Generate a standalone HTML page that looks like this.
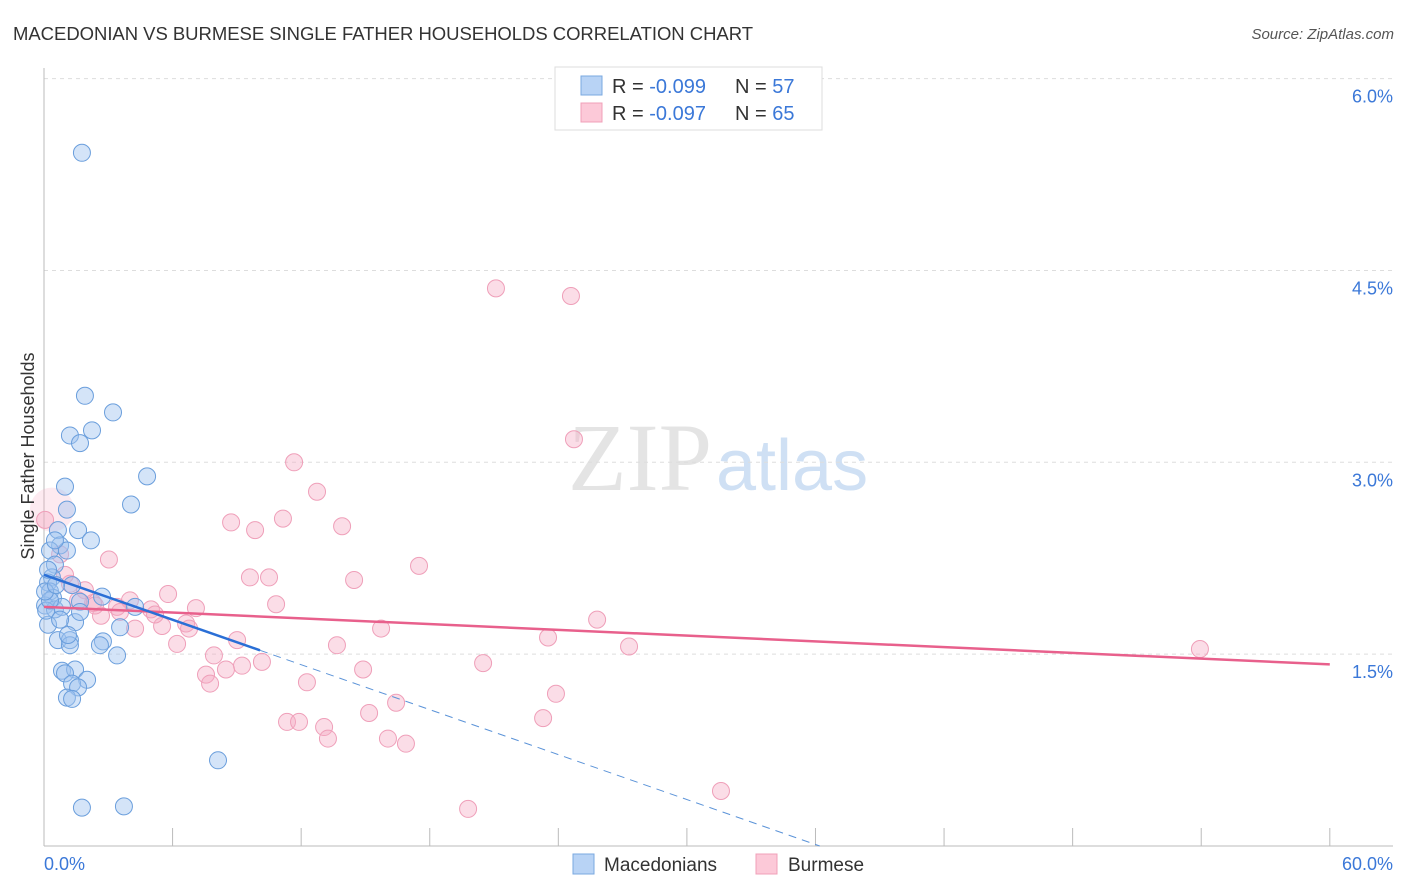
<!DOCTYPE html>
<html><head><meta charset="utf-8"><style>
body{margin:0;background:#fff;font-family:"Liberation Sans",sans-serif;}
</style></head><body>
<svg id="chart" width="1406" height="892" xmlns="http://www.w3.org/2000/svg" style="display:block">
<text x="13" y="40" font-size="18.5" fill="#333" textLength="740">MACEDONIAN VS BURMESE SINGLE FATHER HOUSEHOLDS CORRELATION CHART</text>
<text x="1394" y="39" font-size="15" fill="#555" font-style="italic" text-anchor="end">Source: ZipAtlas.com</text>
<text x="712" y="490" font-size="96" fill="#e4e4e4" text-anchor="end" font-family="Liberation Serif, serif">ZIP</text>
<text x="716" y="490" font-size="72" fill="#cfe0f4">atlas</text>
<g id="grid"></g>
<g id="axes"></g>
<g id="pts"></g>
<g id="trends"></g>
<text transform="translate(34,456) rotate(-90)" font-size="18" fill="#333" text-anchor="middle">Single Father Households</text>
<g>
<rect x="555" y="67" width="267" height="63" fill="#fff" stroke="#ddd"/>
<rect x="581" y="76" width="21" height="19" fill="#b8d3f5" stroke="#7aa8e0"/>
<rect x="581" y="103" width="21" height="19" fill="#fcc9d8" stroke="#f0a0b8"/>
<text x="612" y="93" font-size="20" fill="#333">R = <tspan fill="#3b78d8">-0.099</tspan><tspan x="735">N = </tspan><tspan fill="#3b78d8">57</tspan></text>
<text x="612" y="120" font-size="20" fill="#333">R = <tspan fill="#3b78d8">-0.097</tspan><tspan x="735">N = </tspan><tspan fill="#3b78d8">65</tspan></text>
</g>
<g>
<rect x="573" y="854" width="21" height="20" fill="#b8d3f5" stroke="#7aa8e0"/>
<text x="604" y="871" font-size="19" fill="#333">Macedonians</text>
<rect x="756" y="854" width="21" height="20" fill="#fcc9d8" stroke="#f0a0b8"/>
<text x="788" y="871" font-size="19" fill="#333">Burmese</text>
</g>
</svg>
<script>
const blueX=[1.77,1.91,3.22,1.21,2.24,1.68,4.81,0.98,4.06,1.07,0.65,1.59,2.19,0.75,1.07,0.28,0.51,0.37,0.19,1.31,0.28,2.71,0.42,1.68,4.25,0.05,0.51,0.84,0.19,1.45,3.55,0.65,1.21,2.75,2.61,1.21,3.41,0.84,1.45,0.98,2.01,1.31,1.59,1.07,1.31,8.12,1.77,3.73,0.1,0.19,0.51,0.75,0.28,1.12,0.05,0.56,1.68];
const blueY=[5.42,3.52,3.39,3.21,3.25,3.15,2.89,2.81,2.67,2.63,2.47,2.47,2.39,2.35,2.31,2.31,2.20,2.10,2.06,2.04,1.99,1.95,1.94,1.91,1.87,1.88,1.85,1.87,1.73,1.75,1.71,1.61,1.61,1.60,1.57,1.57,1.49,1.37,1.38,1.35,1.30,1.27,1.24,1.16,1.15,0.67,0.30,0.31,1.84,2.16,2.39,1.77,1.92,1.65,1.99,2.04,1.83];
const pinkX=[21.09,24.59,24.73,11.67,12.74,8.73,11.15,13.91,9.85,3.03,17.50,9.61,10.50,14.47,1.21,5.79,10.83,7.09,4.99,25.81,2.29,2.66,3.41,6.63,5.51,4.25,15.73,6.77,23.52,9.01,6.21,13.67,27.30,53.94,7.93,10.17,9.24,20.49,7.56,14.89,8.49,7.75,12.27,23.89,16.43,15.17,23.29,11.34,11.90,13.07,13.25,16.05,16.89,31.59,19.79,0.37,0.75,0.98,1.91,2.38,4.01,5.18,1.59,0.05,3.55];
const pinkY=[4.36,4.30,3.18,3.00,2.77,2.53,2.56,2.50,2.47,2.24,2.19,2.10,2.10,2.08,2.05,1.97,1.89,1.86,1.85,1.77,1.90,1.80,1.87,1.74,1.72,1.70,1.70,1.70,1.63,1.61,1.58,1.57,1.56,1.54,1.49,1.44,1.41,1.43,1.34,1.38,1.38,1.27,1.28,1.19,1.12,1.04,1.00,0.97,0.97,0.93,0.84,0.84,0.80,0.43,0.29,2.63,2.28,2.12,2.00,1.88,1.92,1.81,1.92,2.55,1.83];
const yTicks=[1.5,3.0,4.5,6.0];
const yTickLabels=["1.5%","3.0%","4.5%","6.0%"];
const xTicks=[0,6,12,18,24,30,36,42,48,54,60];
const blueTrend=[[0,2.12],[10.08,1.53]];
const blueDash=[[10.08,1.53],[36.2,0]];
const pinkTrend=[[0,1.87],[60,1.42]];

const X=v=>44+v*21.43, Y=v=>846-v*127.9;
const NS="http://www.w3.org/2000/svg";
function mk(t,a,p){const e=document.createElementNS(NS,t);for(const k in a)e.setAttribute(k,a[k]);p.appendChild(e);return e;}
const grid=document.getElementById('grid'),axes=document.getElementById('axes'),pts=document.getElementById('pts'),tr=document.getElementById('trends');
yTicks.forEach((v,i)=>{
 const l=mk('line',{x1:44,x2:1393,y1:Y(v),y2:Y(v),stroke:'#ddd','stroke-dasharray':'4,4'},grid);
 
 
 const t=mk('text',{x:1393,y:Y(v)+24,'font-size':18,fill:'#3b78d8','text-anchor':'end'},axes);
 t.textContent=yTickLabels[i];
 
 
});
const ax=mk('line',{x1:44,x2:1393,y1:846,y2:846,stroke:'#bbb'},axes);


const ay=mk('line',{x1:44,x2:44,y1:68,y2:846,stroke:'#bbb'},axes);


xTicks.forEach(v=>{
 const l=mk('line',{x1:X(v),x2:X(v),y1:828,y2:846,stroke:'#bbb'},axes);
 
 
});
const t0=mk('text',{x:44,y:870,'font-size':18,fill:'#3b78d8'},axes);t0.textContent='0.0%';


const t1=mk('text',{x:1393,y:870,'font-size':18,fill:'#3b78d8','text-anchor':'end'},axes);t1.textContent='60.0%';


pinkX.forEach((x,i)=>{
 const big=(i===55);
 const c=mk('circle',{cx:X(x),cy:Y(pinkY[i]),r:(big?22:8.5),fill:(big?'rgba(246,170,196,0.25)':'rgba(246,170,196,0.4)'),stroke:(big?'none':'#ef9fb9'),'stroke-width':1},pts);
 
 
});
blueX.forEach((x,i)=>{
 const c=mk('circle',{cx:X(x),cy:Y(blueY[i]),r:8.5,fill:'rgba(160,196,240,0.45)',stroke:'#6a9edc','stroke-width':1},pts);
 
 
});
const pl=mk('line',{x1:X(pinkTrend[0][0]),y1:Y(pinkTrend[0][1]),x2:X(pinkTrend[1][0]),y2:Y(pinkTrend[1][1]),stroke:'#e8608c','stroke-width':2.5},tr);


const bl=mk('line',{x1:X(blueTrend[0][0]),y1:Y(blueTrend[0][1]),x2:X(blueTrend[1][0]),y2:Y(blueTrend[1][1]),stroke:'#2a6fd6','stroke-width':2.5},tr);


const bd=mk('line',{x1:X(blueDash[0][0]),y1:Y(blueDash[0][1]),x2:X(blueDash[1][0]),y2:Y(blueDash[1][1]),stroke:'#5b93d8','stroke-width':1,'stroke-dasharray':'8,6'},tr);


</script>
</body></html>
